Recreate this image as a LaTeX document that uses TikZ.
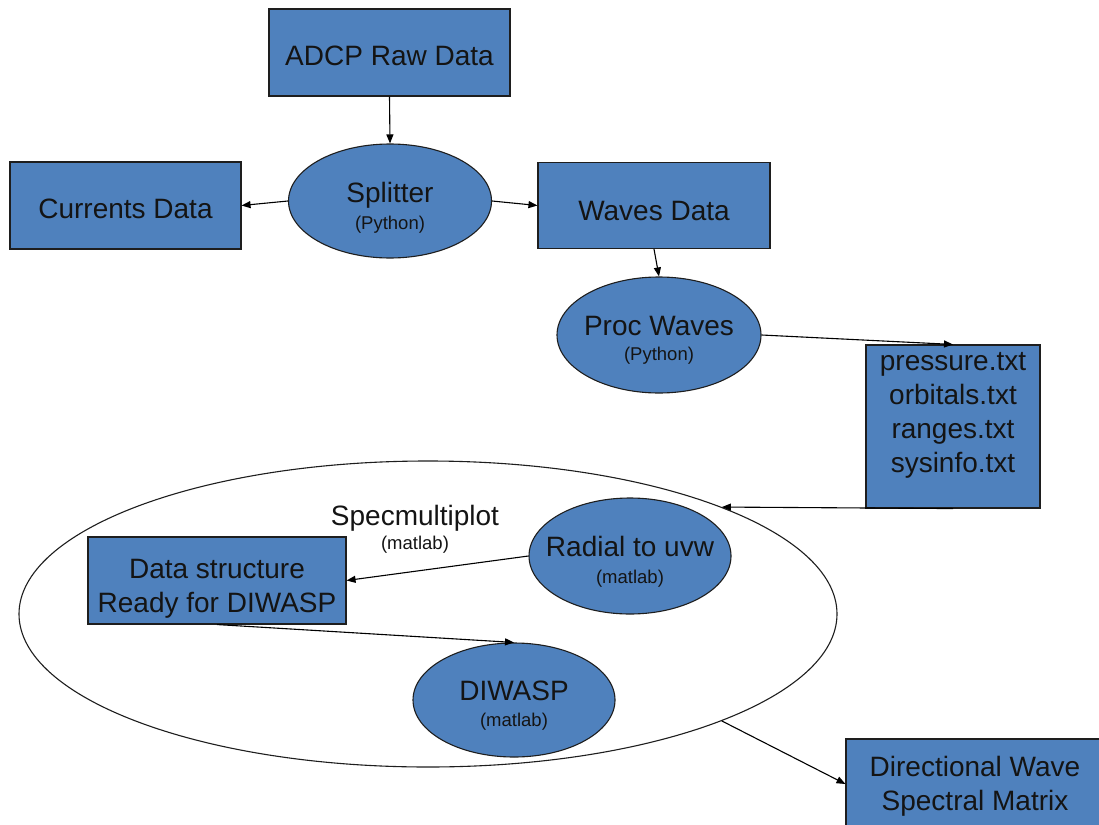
\documentclass[tikz,border=0pt]{standalone}
\usepackage{fontspec}
\setmainfont{Liberation Sans}
\usetikzlibrary{shapes.geometric,arrows.meta}
\definecolor{boxblue}{HTML}{4F81BD}
\definecolor{edgecol}{HTML}{1E1E1E}
\newcommand\smalltxt{\fontsize{18.5}{22}\selectfont}
\newcommand\tallstrut[1]{\rule{0pt}{#1}}
\begin{document}
\begin{tikzpicture}[x=1pt,y=-1pt,
  font=\fontsize{28}{34}\selectfont, text=black!92,
  blockbox/.style={rectangle, draw=edgecol, line width=1.1pt, fill=boxblue, inner sep=0pt, align=center},
  procell/.style={ellipse, draw=edgecol, line width=1.1pt, fill=boxblue, inner xsep=-15pt, inner ysep=0pt, align=center},
  outline/.style={ellipse, draw=edgecol, line width=1.1pt, inner sep=0pt},
  conn/.style={draw=black, line width=1.1pt, -{Triangle[length=9pt,width=7pt]}}]
\useasboundingbox[fill=white] (0,0) rectangle (1099,824);

\node[outline, minimum width=818, minimum height=306] (spec) at (428,614) {};

\node[blockbox, minimum width=241, minimum height=87] (adcp) at (389.5,52.5) {\tallstrut{26pt}ADCP Raw Data};
\node[blockbox, minimum width=231, minimum height=87] (curr) at (125.5,205.5) {\tallstrut{27pt}Currents Data};
\node[procell, minimum width=203, minimum height=114] (split) at (390,201) {\tallstrut{34pt}Splitter\\[-7pt]{\smalltxt (Python)}};
\node[blockbox, minimum width=232, minimum height=86] (waves) at (654,205.5) {\tallstrut{30pt}Waves Data};
\node[procell, minimum width=204, minimum height=116] (proc) at (659,335) {\tallstrut{30pt}Proc Waves\\[-9pt]{\smalltxt (Python)}};
\node[blockbox, minimum width=174, minimum height=163] (files) at (953,426.5) {pressure.txt\\orbitals.txt\\ranges.txt\\sysinfo.txt\\[-6pt]\mbox{}};

\node[align=center] (speclbl) at (415,529.5) {Specmultiplot\\[-10pt]{\smalltxt (matlab)}};
\node[blockbox, minimum width=258, minimum height=87] (ds) at (217,580.5) {\tallstrut{35pt}Data structure\\Ready for DIWASP};
\node[procell, minimum width=202, minimum height=116] (radial) at (630,556) {\tallstrut{32pt}Radial to uvw\\[-7pt]{\smalltxt (matlab)}};
\node[procell, minimum width=202, minimum height=114] (diwasp) at (514,700) {\tallstrut{31pt}DIWASP\\[-8pt]{\smalltxt (matlab)}};
\node[blockbox, minimum width=258, minimum height=90] (dir) at (975,784) {\tallstrut{25pt}Directional Wave\\Spectral Matrix};

\draw[conn] (adcp.south) -- (split.north);
\draw[conn] (split.west) -- (curr.east);
\draw[conn] (split.east) -- (waves.west);
\draw[conn] (waves.south) -- (proc.north);
\draw[conn] (proc.east) -- (files.north);
\draw[conn] (files.south) -- (spec.20.4);
\draw[conn] (radial.west) -- (ds.east);
\draw[conn] (ds.south) -- (diwasp.north);
\draw[conn] (spec.-20.4) -- (dir.west);
\end{tikzpicture}
\end{document}
